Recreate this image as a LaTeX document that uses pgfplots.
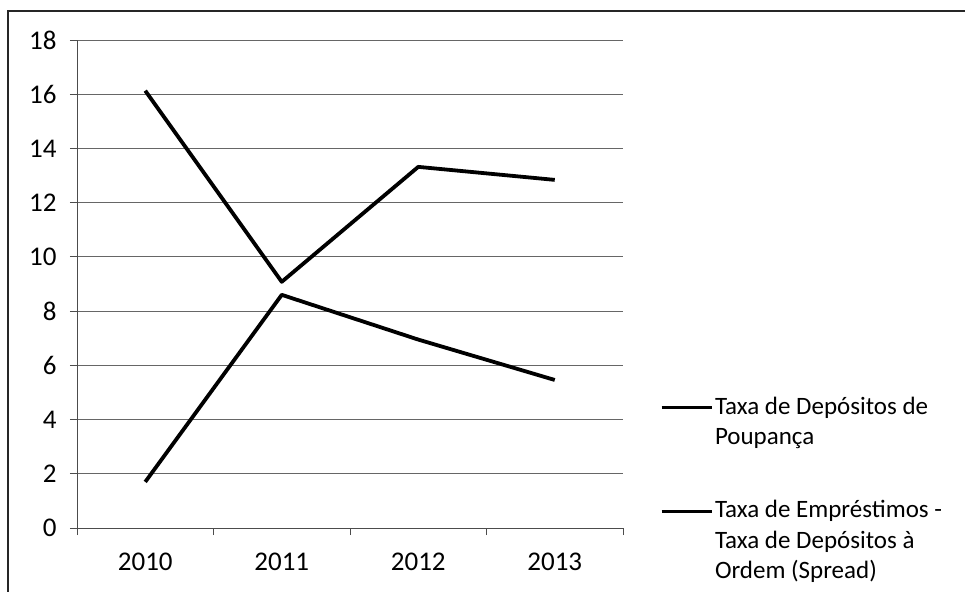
\documentclass[border=0pt]{standalone}
\usepackage{fontspec}
\setmainfont{Carlito}
\usepackage{pgfplots}
\pgfplotsset{compat=1.18}

% one row of the legend
\newcommand{\lrow}{\rule[-11pt]{0pt}{36pt}}

\begin{document}
\begin{tikzpicture}[x=1pt,y=1pt]
\useasboundingbox (0,0) rectangle (965,591);
\begin{scope}
\clip (0,0) rectangle (965,591);
\draw[line width=1.3pt, black!85] (8,-20) -- (8,580) -- (990,580);
\end{scope}
\begin{axis}[
  scale only axis,
  width=546pt, height=488pt,
  at={(77pt,63pt)}, anchor=south west,
  font=\fontsize{24}{29}\selectfont,
  ticklabel style={font=\fontsize{27}{32}\selectfont},
  /pgf/number format/assume math mode=true,
  xmin=-0.5, xmax=3.5,
  ymin=0, ymax=18,
  ytick={0,2,...,18},
  xtick={0,1,2,3},
  xticklabels={2010,2011,2012,2013},
  minor xtick={-0.5,0.5,1.5,2.5,3.5},
  major x tick style={draw=none},
  tick align=outside,
  major tick length=7pt,
  minor tick length=7pt,
  tick style={black!70, line width=0.8pt},
  axis x line*=bottom,
  axis y line*=left,
  axis line style={black!70, line width=0.9pt},
  ymajorgrids,
  grid style={black!60, line width=0.8pt},
  yticklabel style={xshift=-10pt},
  xticklabel style={yshift=-14pt},
  legend style={
    at={(1.0678,0.2880)}, anchor=north west,
    draw=none, fill=none, inner sep=0pt, outer sep=0pt,
    row sep=0pt, column sep=0pt,
    font=\fontsize{25}{30}\selectfont,
    cells={anchor=west},
  },
  legend image code/.code={
    \draw[line width=3pt, black] (0pt,-5pt) -- (50pt,-5pt);
  },
]
% Taxa de Depósitos de Poupança
\addplot[black, line width=3.8pt, line join=round, mark=none]
  coordinates {(0,1.70) (1,8.60) (2,6.95) (3,5.46)};
\addlegendentry{\lrow Taxa de Depósitos de}
\addlegendimage{empty legend}
\addlegendentry{\lrow Poupança}
\addlegendimage{empty legend}
\addlegendentry{\rule[-11pt]{0pt}{48pt}}
% Taxa de Empréstimos - Taxa de Depósitos à Ordem (Spread)
\addplot[black, line width=3.8pt, line join=round, mark=none]
  coordinates {(0,16.13) (1,9.08) (2,13.32) (3,12.84)};
\addlegendentry{\lrow Taxa de Empréstimos -}
\addlegendimage{empty legend}
\addlegendentry{\lrow Taxa de Depósitos à}
\addlegendimage{empty legend}
\addlegendentry{\lrow Ordem (Spread)}
\end{axis}
\end{tikzpicture}
\end{document}
